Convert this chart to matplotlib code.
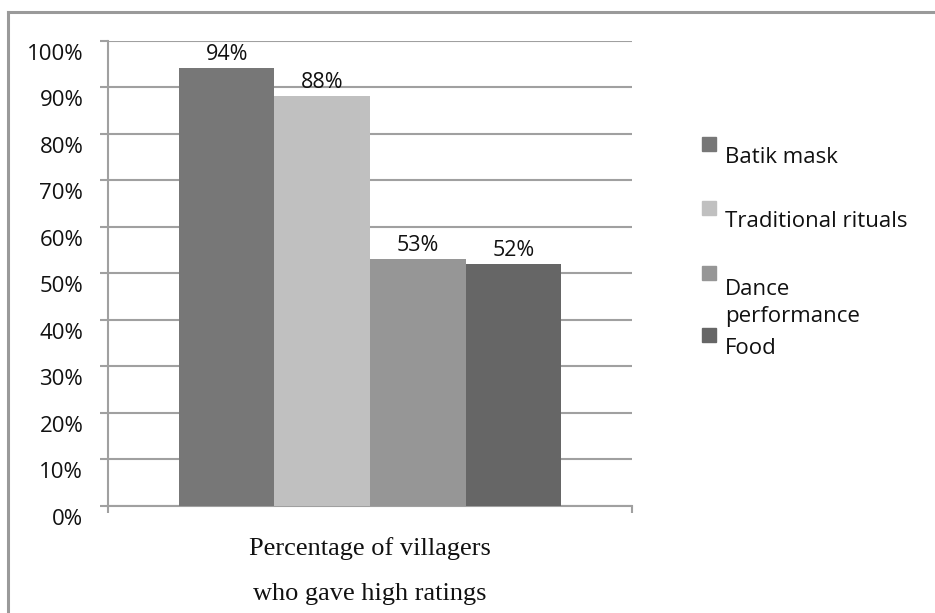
import matplotlib
matplotlib.use("Agg")
import matplotlib.pyplot as plt
import matplotlib.transforms as mtransforms
from matplotlib.patches import Rectangle
from matplotlib.lines import Line2D

categories = ["Percentage of villagers\nwho gave high ratings"]
series_names = ["Batik mask", "Traditional rituals", "Dance\nperformance", "Food"]
series_values = [94, 88, 53, 52]
series_colors = ["#777777", "#c0c0c0", "#969696", "#666666"]
value_labels = ["94%", "88%", "53%", "52%"]
y_ticks = [0, 10, 20, 30, 40, 50, 60, 70, 80, 90, 100]
y_tick_labels = [f"{t}%" for t in y_ticks]

W, H = 935, 613
fig = plt.figure(figsize=(W / 100, H / 100), dpi=100)
fig.patch.set_facecolor("white")

def fx(px):
    return px / W

def fy(py):
    return 1 - py / H

ax = fig.add_axes([fx(108), fy(506), fx(632) - fx(108), fy(40.5) - fy(506)])

grid_c = "#a0a0a0"
txt_c = "#111111"
sans = "Open Sans"
bw = 0.1823
n = len(series_values)
for i, (v, c, lab) in enumerate(zip(series_values, series_colors, value_labels)):
    x = (i - (n - 1) / 2) * bw
    ax.bar(x, v, width=bw, color=c, zorder=3)
    ax.annotate(lab, (x, v), xytext=(0, 6), textcoords="offset points",
                ha="center", va="baseline", fontsize=15.5, family=sans, color=txt_c)

ax.set_xlim(-0.5, 0.5)
ax.set_ylim(0, 100)
ax.set_yticks(y_ticks)
ax.set_yticklabels(y_tick_labels)
ax.yaxis.grid(True, color=grid_c, linewidth=1.5, zorder=0)
ax.set_axisbelow(True)
for s in ["top", "right"]:
    ax.spines[s].set_visible(False)
for s in ["left", "bottom"]:
    ax.spines[s].set_color(grid_c)
    ax.spines[s].set_linewidth(1.5)
ax.tick_params(axis="y", direction="out", length=5.8, width=1.5, color=grid_c,
               pad=12, labelsize=16, labelcolor=txt_c)
ax.set_xticks([-0.5, 0.5])
ax.set_xticklabels(["", ""])
ax.tick_params(axis="x", direction="out", length=5, width=1.5, color=grid_c)
for t in ax.get_yticklabels():
    t.set_family(sans)
    t.set_transform(t.get_transform() + mtransforms.ScaledTranslation(0, -11 / 100, fig.dpi_scale_trans))

ax.set_xlabel(categories[0], family="Liberation Serif", fontsize=19, color=txt_c,
              linespacing=2.35, labelpad=14)

# outer frame
fig.add_artist(Line2D([fx(8), 1], [fy(12), fy(12)], color="#9a9a9a", linewidth=2.2, transform=fig.transFigure))
fig.add_artist(Line2D([fx(8), fx(8)], [fy(12), 0], color="#9a9a9a", linewidth=2.2, transform=fig.transFigure))

# legend (first-line baselines, px from top)
baselines = [163, 227, 292, 354]
line_step = 30
for name, c, b in zip(series_names, series_colors, baselines):
    fig.add_artist(Rectangle((fx(702), fy(b - 26 + 14)), fx(14), fy(0) - fy(14), color=c,
                             transform=fig.transFigure))
    nl = name.count("\n")
    fig.text(fx(725), fy(b + nl * line_step), name, family=sans, fontsize=16, color=txt_c,
             va="baseline", ha="left", linespacing=1.4)

fig.savefig("out.png", dpi=100)
